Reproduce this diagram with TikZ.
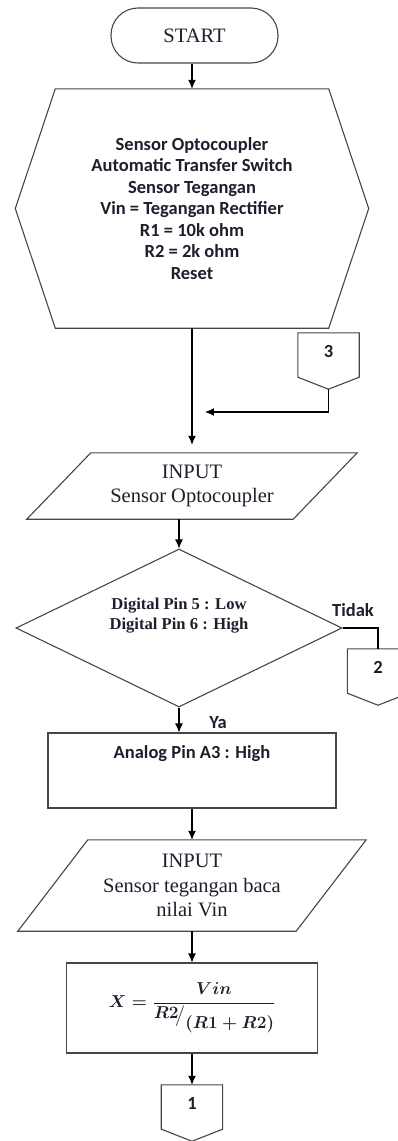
\documentclass[tikz,border=0pt]{standalone}
\usepackage{fontspec}
\setmainfont{Liberation Serif}
\newfontfamily\calibri{Carlito}
\usepackage{amsmath}
\usepackage{tikz}
\usetikzlibrary{arrows.meta, shapes.geometric, positioning}
\definecolor{linegray}{RGB}{70,70,70}
\definecolor{inkcol}{RGB}{30,30,45}
\newcommand{\serifbig}{\fontsize{20.5}{24.5}\selectfont}
\newcommand{\serifdec}{\fontsize{16.6}{20}\selectfont\bfseries}
\newcommand{\sanslabel}{\calibri\bfseries\fontsize{18.5}{21.5}\selectfont}
\newcommand{\mathbig}{\fontsize{18}{22}\selectfont\mathversion{bold}}
\newcommand{\vinratio}{$X = \dfrac{Vin}{\raisebox{2pt}{$R2$}\!\big/\raisebox{-8pt}{$(R1+R2)$}}$}
\tikzset{
    shapeline/.style = {draw=linegray, line width=1.1pt},
    termnode/.style = {shapeline, rectangle, rounded corners=27pt, minimum width=167pt, 
      minimum height=55pt, inner sep=0pt, node distance=0em, font=\serifbig},
    hexnode/.style = {rectangle, inner sep=0pt, node distance=0em, minimum width=273pt, 
      minimum height=239pt, font=\sanslabel,
      append after command={\pgfextra{\draw [shapeline] (\tikzlastnode.north west) 
        -- (\tikzlastnode.north east) -- ([xshift=40pt]\tikzlastnode.east) 
        -- (\tikzlastnode.south east) -- (\tikzlastnode.south west) 
        -- ([xshift=-40pt]\tikzlastnode.west) -- cycle;}}},
    ionode/.style = {rectangle, inner sep=0pt, node distance=0em, font=\serifbig,
      append after command={\pgfextra{\draw [shapeline] ([xshift=#1]\tikzlastnode.north west) 
        -- (\tikzlastnode.north east) -- ([xshift=-#1]\tikzlastnode.south east) 
        -- (\tikzlastnode.south west) -- cycle;}}},
    offpagenode/.style = {rectangle, inner sep=0pt, node distance=0em, minimum width=61pt, 
      minimum height=56pt, text height=12pt, text depth=20pt, font=\sanslabel,
      append after command={\pgfextra{\draw [shapeline] (\tikzlastnode.north west) 
        -- (\tikzlastnode.north east) -- ([yshift=12pt]\tikzlastnode.south east) 
        -- (\tikzlastnode.south) -- ([yshift=12pt]\tikzlastnode.south west) -- cycle;}}},
    decnode/.style = {shapeline, diamond, aspect=2.06, minimum width=326pt, 
      minimum height=158pt, inner sep=0pt, node distance=0em},
    procnode/.style = {shapeline, rectangle, inner sep=0pt, node distance=0em},
    textnode/.style = {draw=none, fill=none, rectangle, minimum size=0cm, inner sep=0em, 
      node distance=0em, font=\sanslabel},
    connect/.style = {draw=black, line width=1.1pt, -{Latex[length=9pt, width=8pt]}},
    link/.style = {draw=black, line width=1.1pt},
    every text node part/.style={align=center}
}

\begin{document}
\begin{tikzpicture}[every node/.append style={text=inkcol}]
    \useasboundingbox (-194.5pt,35.5pt) rectangle (202.5pt,-1105.5pt);

    \node [name=start, termnode] {START};

    \node [name=init, hexnode, below of = start, xshift=-2.5pt, yshift=-173pt] 
        {Sensor Optocoupler\\Automatic Transfer Switch\\Sensor Tegangan\\
         Vin = Tegangan Rectifier\\R1 = 10k ohm\\R2 = 2k ohm\\Reset};
    \draw [connect] (init.north |- start.south) -- (init.north);

    % connector 3 back into the main line
    \node [name=conn3, offpagenode, below of = init, xshift=136.5pt, yshift=-152.5pt] {3};
    \coordinate [name=join3, node distance=0em, below of = init, xshift=13pt, yshift=-203.5pt];
    \draw [connect] (conn3.south) |- (join3);

    \node [name=in1, ionode=64pt, minimum width=330pt, minimum height=66pt, 
        below of = init, yshift=-277.5pt] {INPUT\\Sensor Optocoupler};
    \draw [connect, shorten >=8pt] (init.south) -- (in1.north);

    \node [name=check, decnode, below of = in1, xshift=-13pt, yshift=-142pt] {};
    \node [name=checktext, textnode, font=\serifdec, above of = check, yshift=12pt] 
        {Digital Pin 5 : Low\\Digital Pin 6 : High};
    \draw [connect] (check.north |- in1.south) -- (check.north);

    \node [name=conn2, offpagenode, below of = check, xshift=199pt, yshift=-49pt] {2};
    \node [name=no, textnode, right of = check, xshift=174pt, yshift=18pt] {Tidak};
    \draw [link] (check.east) -| (conn2.north);

    \node [name=pinset, procnode, minimum width=288pt, minimum height=75pt, 
        below of = check, xshift=13pt, yshift=-142.5pt] {};
    \node [name=pintext, textnode, above of = pinset, yshift=17pt] {Analog Pin A3 : High};
    \node [name=yes, textnode, above of = pinset, xshift=26pt, yshift=47.5pt] {Ya};
    \draw [connect] (check.south) -- (check.south |- pinset.north);

    \node [name=in2, ionode=70pt, minimum width=348pt, minimum height=91pt, 
        below of = pinset, yshift=-115pt] {INPUT\\Sensor tegangan baca\\nilai Vin};
    \draw [connect] (pinset.south) -- (in2.north);

    \node [name=ratio, procnode, minimum width=251pt, minimum height=90pt, 
        below of = in2, yshift=-122.5pt, font=\mathbig] {\vinratio};
    \draw [connect] (in2.south) -- (ratio.north);

    \node [name=conn1, offpagenode, below of = ratio, yshift=-105pt] {1};
    \draw [connect] (ratio.south) -- (conn1.north);
\end{tikzpicture}
\end{document}
